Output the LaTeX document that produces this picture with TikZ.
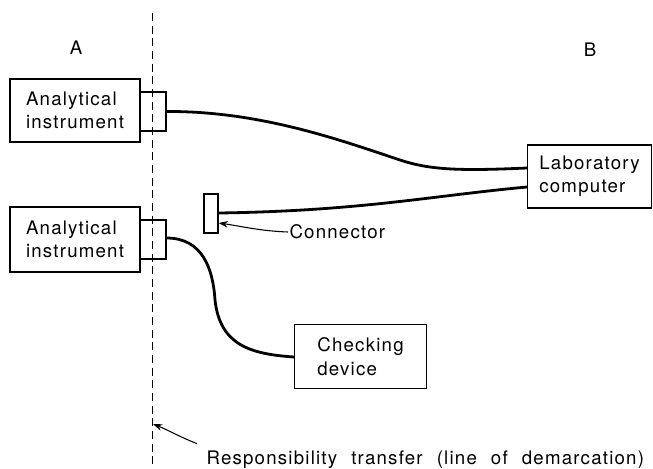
\documentclass[tikz,border=0pt]{standalone}
\usepackage{fontspec}
\setmainfont[LetterSpace=6.5, WordSpace=2.2]{TeX Gyre Heros}
\usetikzlibrary{arrows.meta}

\tikzset{every picture/.style={line width=0.75pt}}
\tikzset{
  box/.style={draw, line width=0.9pt, inner sep=0pt, align=left, font=\fontsize{14}{17.5}\selectfont},
  plug/.style={draw, line width=0.9pt, inner sep=0pt, minimum width=19.5pt, minimum height=29.25pt},
  cable/.style={line width=2.1pt},
  label/.style={inner sep=0.75pt, font=\fontsize{14}{17}\selectfont},
  pointer/.style={line width=0.8pt, -{Stealth[length=7pt, width=5pt]}}
}

\begin{document}
\begin{tikzpicture}[x=0.75pt,y=0.75pt,yscale=-1,xscale=1]
\useasboundingbox (0,0) rectangle (653,468);

% Instruments and plugs
\node [box, minimum width=97.5pt, minimum height=47.25pt] (instA) at (75,110.5) {Analytical\\instrument};
\node [plug] (plugA) at (153,111.5) {};
\node [box, minimum width=97.5pt, minimum height=48.75pt] (instB) at (75,239.5) {Analytical\\instrument};
\node [plug] (plugB) at (153,239.5) {};

% Laboratory computer, connector, checking device
\node [box, minimum width=93pt, minimum height=47.25pt] (lab) at (589.5,176.5) {Laboratory\\computer};
\node [draw, line width=0.9pt, inner sep=0pt, minimum width=10.5pt, minimum height=29.25pt] (conn) at (211,213.5) {};
\node [box, minimum width=99pt, minimum height=48pt] (check) at (360.5,356.5) {Checking\\device};

% Line of demarcation
\coordinate (lineTop) at (152,13);
\coordinate (lineBot) at (152,468);
\draw [dash pattern=on 6pt off 3.5pt, line width=0.6pt] (lineTop) -- (lineBot);

% Cables
\draw [cable] (plugA.east) .. controls (260,111) and (340,140) .. (400,160) .. controls (430,170) and (460,171) .. (lab.west |- 0,168);
\draw [cable] (conn.east |- 0,213) .. controls (360,211) and (430,196) .. (lab.west |- 0,187);
\draw [cable] (plugB.east |- 0,238) .. controls (202,238) and (213,268) .. (215,300) .. controls (220,345) and (250,354) .. (check.west |- 0,357);

% Text Node
\node [label] (labA) at (76,48) {A};
% Text Node
\node [label] (labB) at (590,50) {B};
% Text Node
\node [label, anchor=west] (connText) at (288,232) {Connector};
% Text Node
\node [label, anchor=west] (respText) at (205,460) {Responsibility transfer (line of demarcation)};

% Pointers
\coordinate (lineTip) at (153,424);
\draw [pointer] (connText.west) .. controls (260,231) and (240,226) .. (conn.east |- 0,223);
\draw [pointer] (respText.north west) ++(-8,-6) .. controls (180,437) and (168,430) .. (lineTip);

\end{tikzpicture}
\end{document}
